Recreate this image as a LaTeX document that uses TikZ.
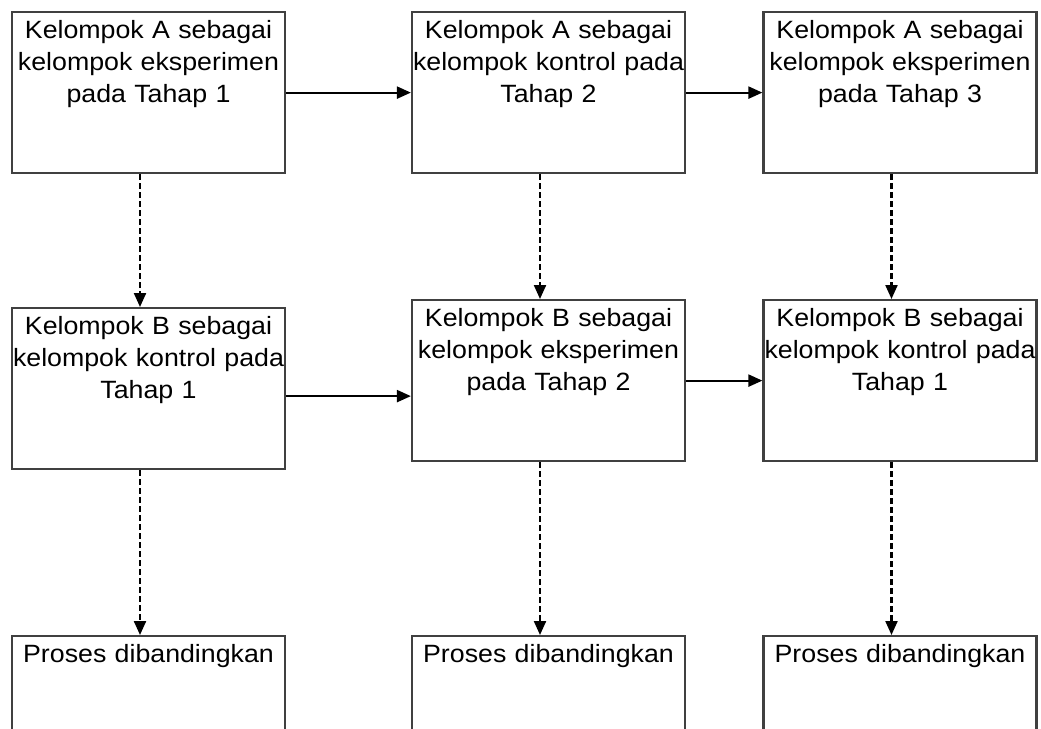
\documentclass[tikz,border=0pt]{standalone}
\usepackage{fontspec}
\setmainfont{Liberation Sans}[FakeStretch=1.07]
\usetikzlibrary{arrows.meta}

\begin{document}
\begin{tikzpicture}[x=0.5pt,y=-0.5pt,
  tahap/.style={draw=black!75, line width=1.1pt, fill=white, anchor=north,
    align=center, text width=136.5pt, inner xsep=0pt, inner ysep=3.5pt,
    text height=9.5pt, text depth=64pt, font=\fontsize{12.5}{16}\selectfont},
  alur/.style={-{Triangle[length=7pt,width=6pt]}, line width=1.1pt},
  banding/.style={alur, dash pattern=on 3pt off 1.5pt}]

\fill[white] (0,0) rectangle (1041,729);
\useasboundingbox (0,0) rectangle (1041,729);

% kelompok A
\node[tahap] (a1) at (148.5,11) {Kelompok A sebagai\\kelompok eksperimen\\pada Tahap 1};
\node[tahap] (a2) at (548.5,11) {Kelompok A sebagai\\kelompok kontrol pada\\Tahap 2};
\node[tahap] (a3) at (900,11) {Kelompok A sebagai\\kelompok eksperimen\\pada Tahap 3};

% kelompok B
\node[tahap] (b1) at (148.5,307) {Kelompok B sebagai\\kelompok kontrol pada\\Tahap 1};
\node[tahap] (b2) at (548.5,299) {Kelompok B sebagai\\kelompok eksperimen\\pada Tahap 2};
\node[tahap] (b3) at (900,299) {Kelompok B sebagai\\kelompok kontrol pada\\Tahap 1};

% proses dibandingkan
\node[tahap] (c1) at (148.5,635) {Proses dibandingkan};
\node[tahap] (c2) at (548.5,635) {Proses dibandingkan};
\node[tahap] (c3) at (900,635) {Proses dibandingkan};

\draw[alur] (a1) -- (a2);
\draw[alur] (a2) -- (a3);

\coordinate (b1r) at ([yshift=-3.75pt]b1.east);
\draw[alur] (b1r) -- (b1r -| b2.west);
\draw[alur] (b2) -- (b3);

\foreach \k in {1,2,3}
\draw[banding] ([xshift=-4.25pt]a\k.south) -- ([xshift=-4.25pt]b\k.north);

\foreach \k in {1,2,3}
\draw[banding] ([xshift=-4.25pt]b\k.south) -- ([xshift=-4.25pt]c\k.north);

\end{tikzpicture}
\end{document}
